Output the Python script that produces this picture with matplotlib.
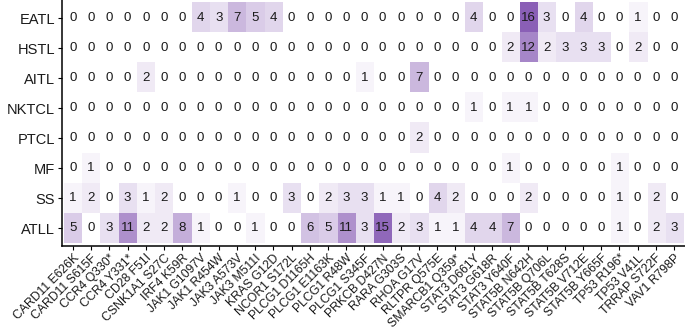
import numpy as np
import matplotlib.pyplot as plt
from matplotlib.colors import LinearSegmentedColormap

plt.rcParams["font.family"] = ["Liberation Sans", "DejaVu Sans"]

subtypes = ["EATL", "HSTL", "AITL", "NKTCL", "PTCL", "MF", "SS", "ATLL"]
mutations = [
    "CARD11 E626K", "CARD11 S615F", "CCR4 Q330*", "CCR4 Y331*", "CD28 F51I",
    "CSNK1A1 S27C", "IRF4 K59R", "JAK1 G1097V", "JAK1 R454W", "JAK3 A573V",
    "JAK3 M511I", "KRAS G12D", "NCOR1 S172L", "PLCG1 D1165H", "PLCG1 E1163K",
    "PLCG1 R48W", "PLCG1 S345F", "PRKCB D427N", "RARA G303S", "RHOA G17V",
    "RLTPR Q575E", "SMARCB1 Q359*", "STAT3 D661Y", "STAT3 G618R", "STAT3 Y640F",
    "STAT5B N642H", "STAT5B Q706L", "STAT5B T628S", "STAT5B V712E", "STAT5B Y665F",
    "TP53 R196*", "TP53 V41L", "TRRAP S722F", "VAV1 R798P",
]

eatl = [0, 0, 0, 0, 0, 0, 0, 4, 3, 7, 5, 4, 0, 0, 0, 0, 0, 0, 0, 0, 0, 0, 4, 0, 0, 16, 3, 0, 4, 0, 0, 1, 0, 0]
hstl = [0, 0, 0, 0, 0, 0, 0, 0, 0, 0, 0, 0, 0, 0, 0, 0, 0, 0, 0, 0, 0, 0, 0, 0, 2, 12, 2, 3, 3, 3, 0, 2, 0, 0]
aitl = [0, 0, 0, 0, 2, 0, 0, 0, 0, 0, 0, 0, 0, 0, 0, 0, 1, 0, 0, 7, 0, 0, 0, 0, 0, 0, 0, 0, 0, 0, 0, 0, 0, 0]
nktcl = [0, 0, 0, 0, 0, 0, 0, 0, 0, 0, 0, 0, 0, 0, 0, 0, 0, 0, 0, 0, 0, 0, 1, 0, 1, 1, 0, 0, 0, 0, 0, 0, 0, 0]
ptcl = [0, 0, 0, 0, 0, 0, 0, 0, 0, 0, 0, 0, 0, 0, 0, 0, 0, 0, 0, 2, 0, 0, 0, 0, 0, 0, 0, 0, 0, 0, 0, 0, 0, 0]
mf = [0, 1, 0, 0, 0, 0, 0, 0, 0, 0, 0, 0, 0, 0, 0, 0, 0, 0, 0, 0, 0, 0, 0, 0, 1, 0, 0, 0, 0, 0, 1, 0, 0, 0]
ss = [1, 2, 0, 3, 1, 2, 0, 0, 0, 1, 0, 0, 3, 0, 2, 3, 3, 1, 1, 0, 4, 2, 0, 0, 0, 2, 0, 0, 0, 0, 1, 0, 2, 0]
atll = [5, 0, 3, 11, 2, 2, 8, 1, 0, 0, 1, 0, 0, 6, 5, 11, 3, 15, 2, 3, 1, 1, 4, 4, 7, 0, 0, 0, 0, 0, 1, 0, 2, 3]

counts = np.array([eatl, hstl, aitl, nktcl, ptcl, mf, ss, atll])

cmap = LinearSegmentedColormap.from_list("wp", ["#ffffff", "#8a5fb6"])

fig = plt.figure(figsize=(6.85, 3.29), dpi=100)
ax = fig.add_axes([62 / 685, 83 / 329, 623 / 685, 246 / 329])

nr, nc = counts.shape
ax.imshow(counts, cmap=cmap, vmin=0, vmax=counts.max(), aspect="auto",
          extent=(-0.5, nc - 0.5, nr - 0.5, -0.5), interpolation="nearest")
for i in range(nr):
    for j in range(nc):
        ax.text(j, i, str(counts[i, j]), ha="center", va="center",
                fontsize=9.5, color="#1a1a1a")

ax.set_xlim(-0.6, nc - 0.4)
ax.set_ylim(nr - 0.4, -0.6)
ax.set_xticks(range(nc))
ax.set_xticklabels(mutations, rotation=45, ha="right", rotation_mode="anchor",
                   fontsize=8.8, color="#1a1a1a")
ax.set_yticks(range(nr))
ax.set_yticklabels(subtypes, fontsize=10.5, color="#1a1a1a")
ax.tick_params(length=3, width=0.8, color="black", pad=2)
ax.tick_params(axis="x", pad=1.5)
for s in ["top", "right"]:
    ax.spines[s].set_visible(False)
for s in ["left", "bottom"]:
    ax.spines[s].set_linewidth(1.1)

fig.savefig("out.png", dpi=100)
